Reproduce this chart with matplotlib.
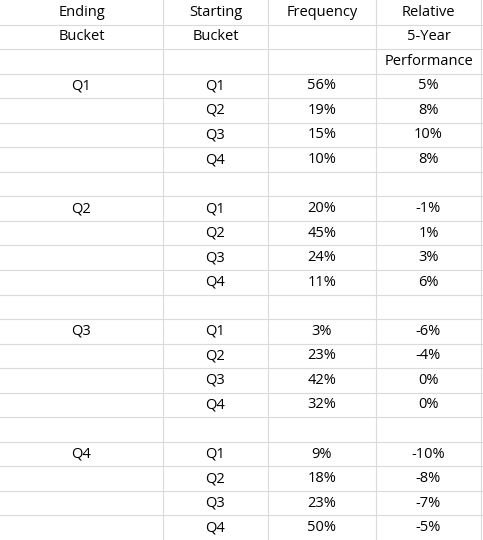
import matplotlib
matplotlib.use('Agg')
import matplotlib.pyplot as plt

plt.rcParams['font.family'] = ['Open Sans', 'DejaVu Sans']

header = [["Ending", "Starting", "Frequency", "Relative"],
          ["Bucket", "Bucket", "", "5-Year"],
          ["", "", "", "Performance"]]
ending = ["Q1", "Q2", "Q3", "Q4"]
starting = ["Q1", "Q2", "Q3", "Q4"]
frequency = [[56, 19, 15, 10], [20, 45, 24, 11], [3, 23, 42, 32], [9, 18, 23, 50]]
performance = [[5, 8, 10, 8], [-1, 1, 3, 6], [-6, -4, 0, 0], [-10, -8, -7, -5]]

rows = list(header)
for i, e in enumerate(ending):
    for j, s in enumerate(starting):
        rows.append([e if j == 0 else "", s, f"{frequency[i][j]}%", f"{performance[i][j]}%"])
    if i < len(ending) - 1:
        rows.append(["", "", "", ""])

col_edges = [0, 163, 268, 376, 481]
W, H = 483, 540
row_h = H / len(rows)

fig = plt.figure(figsize=(W / 100, H / 100), dpi=100)
ax = fig.add_axes([0, 0, 1, 1])
ax.set_xlim(0, W)
ax.set_ylim(H, 0)
ax.axis('off')

for r in range(1, len(rows)):
    ax.axhline(r * row_h, color='#dadada', lw=0.8)
for x in col_edges[1:]:
    ax.axvline(x, color='#dadada', lw=0.8)

for r, row in enumerate(rows):
    y = (r + 0.5) * row_h
    for c, txt in enumerate(row):
        if txt:
            xc = (col_edges[c] + col_edges[c + 1]) / 2
            ax.text(xc, y, txt, ha='center', va='center', fontsize=10.5, color='#000000')

fig.savefig('out.png', dpi=100, facecolor='white')
